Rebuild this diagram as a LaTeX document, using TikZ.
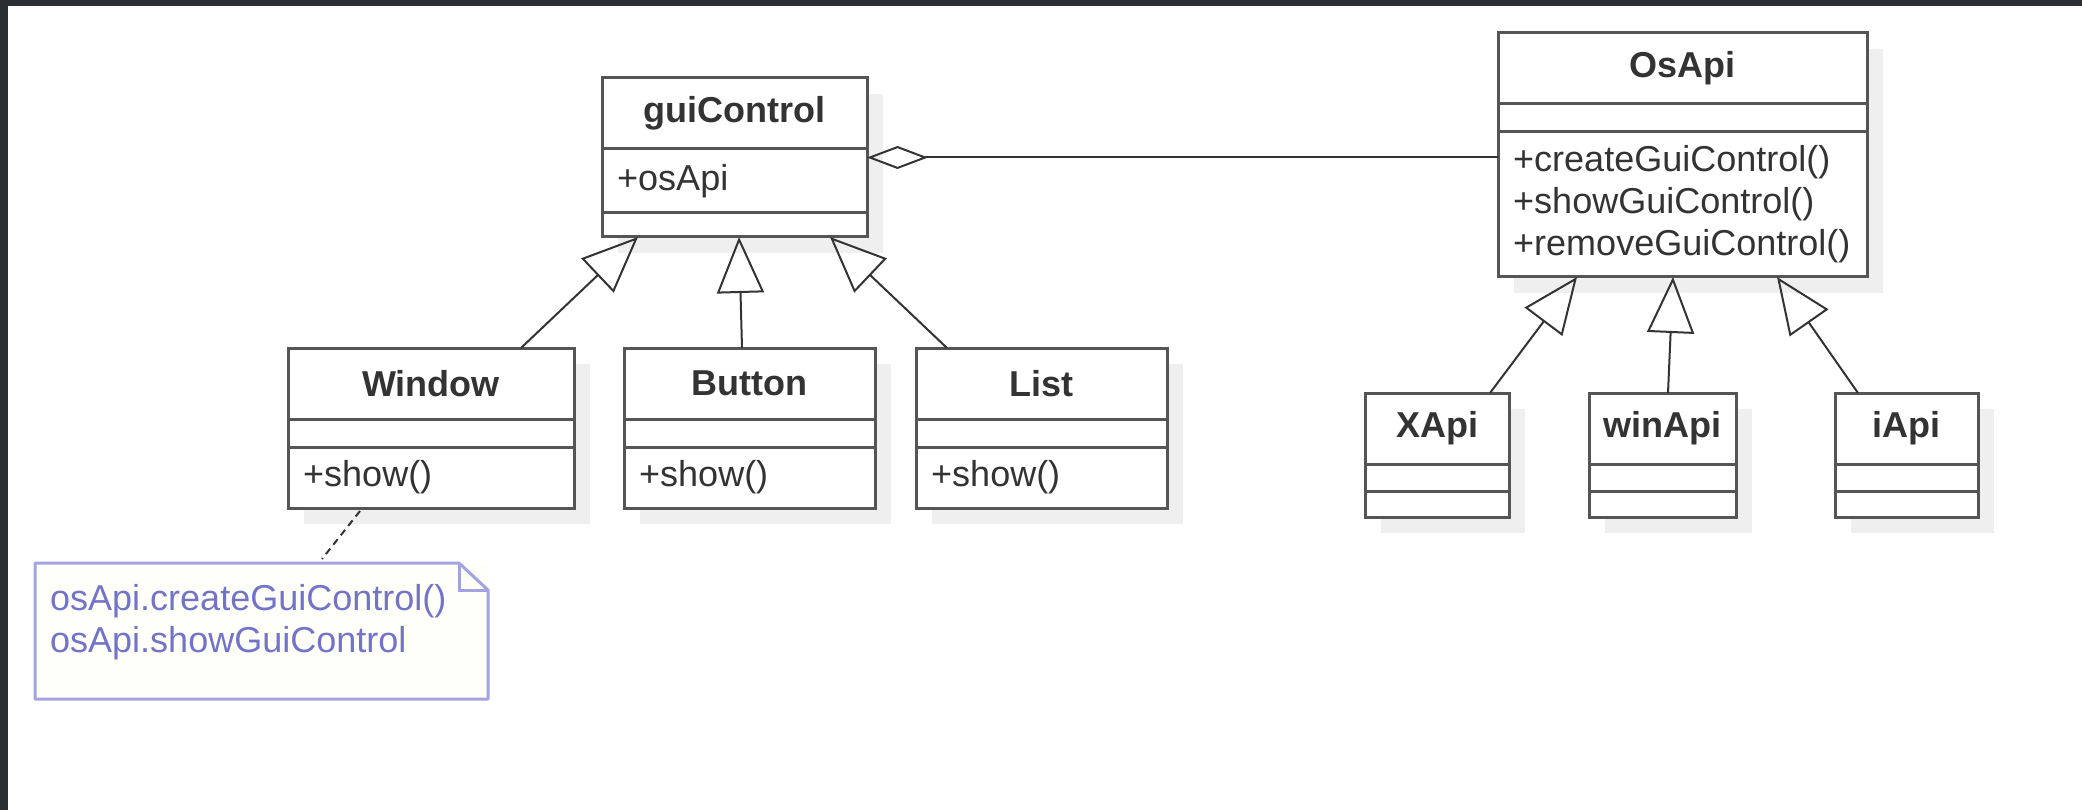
\documentclass[tikz,border=0pt]{standalone}
\usepackage{fontspec}
\setmainfont{Liberation Sans}
\usetikzlibrary{arrows.meta,calc}

\definecolor{framedark}{HTML}{2B2E33}
\definecolor{ink}{HTML}{333333}
\definecolor{edge}{HTML}{555555}
\definecolor{shadowgrey}{HTML}{EFEFEF}
\definecolor{noteedge}{HTML}{A3A3E0}
\definecolor{noteink}{HTML}{7373C8}
\definecolor{notefill}{HTML}{FFFFFA}

% UML class: name, centre x, centre y, width, height, second divider offset,
% title, attributes, operations
\newcommand\umlclass[9]{%
  \fill[shadowgrey] ({#2-#4/2+16},{#3-#5/2+16}) rectangle ++(#4,#5);
  \node[classbox, minimum width=#4pt, minimum height=#5pt] (#1) at (#2,#3) {};
  \draw[divider] ($(#1.north west)+(0,71)$) -- ($(#1.north east)+(0,71)$);
  \draw[divider] ($(#1.north west)+(0,#6)$) -- ($(#1.north east)+(0,#6)$);
  \node[titletext] (#1-title) at ($(#1.north)+(0,35.5)$) {#7};
  \node[membertext] (#1-attr) at ($(#1.north west)+(15,{(71+#6)/2})$) {#8};
  \node[membertext] (#1-ops) at ($(#1.north west)+(15,{(#6+#5)/2})$) {#9};
}

\begin{document}
\begin{tikzpicture}[x=1pt,y=-1pt,
  every node/.style={font=\fontsize{36}{42}\selectfont},
  classbox/.style={draw=edge, line width=3pt, fill=white, rectangle,
    inner sep=0pt, outer sep=0pt},
  divider/.style={draw=edge, line width=3pt},
  titletext/.style={text=ink, inner sep=0pt, font=\fontsize{36}{42}\selectfont\bfseries},
  membertext/.style={text=ink, inner sep=0pt, anchor=west, align=left},
  inherit/.style={draw=ink, line width=2pt,
    -{Triangle[open, length=56pt, width=47pt, line width=2pt]}},
  aggregate/.style={draw=ink, line width=2pt,
    {Diamond[open, length=61pt, width=23pt, line width=2pt]}-},
  notelink/.style={draw=ink, line width=2pt, dash pattern=on 7pt off 5pt},
]
\useasboundingbox (0,0) rectangle (2082,810);
\fill[white] (0,0) rectangle (2082,810);

% window frame edges
\fill[framedark] (0,0) rectangle (2082,6);
\fill[framedark] (0,0) rectangle (8,810);

% classes
\umlclass{gui}{734.5}{157.5}{265}{159}{135}{guiControl}{+osApi}{}
\umlclass{osapi}{1682.5}{155}{369}{244}{99}{OsApi}{}%
  {+createGuiControl()\\+showGuiControl()\\+removeGuiControl()}
\umlclass{win}{431}{428}{286}{160}{99}{Window}{}{+show()}
\umlclass{btn}{749.5}{428}{251}{160}{99}{Button}{}{+show()}
\umlclass{lst}{1041.5}{428}{251}{160}{99}{List}{}{+show()}
\umlclass{xapi}{1437}{455}{144}{124}{98}{XApi}{}{}
\umlclass{winapi}{1662.5}{455}{147}{124}{98}{winApi}{}{}
\umlclass{iapi}{1906.5}{455}{143}{124}{98}{iApi}{}{}

% note attached to Window
\node[fill=notefill, minimum width=453pt, minimum height=136pt,
  inner sep=0pt, outer sep=0pt] (note) at (261.5,631) {};
\draw[noteedge, line width=3pt, line join=round]
  (note.north west) -- ($(note.north east)+(-29,0)$)
  -- ($(note.north east)+(0,27)$) -- (note.south east)
  -- (note.south west) -- cycle;
\draw[noteedge, line width=3pt]
  ($(note.north east)+(-29,0)$) |- ($(note.north east)+(0,27)$);
\node[text=noteink, inner sep=0pt, anchor=north west, align=left]
  (notetext) at ($(note.north west)+(15,21)$)
  {osApi.createGuiControl()\\osApi.showGuiControl};

% aggregation
\draw[aggregate] (gui.east) -- (gui.east -| osapi.west);

% generalizations
\draw[inherit] ($(win.north west)+(233,0)$) -- ($(gui.south west)+(36,0)$);
\draw[inherit] ($(btn.north west)+(118,0)$) -- ($(gui.south west)+(137,0)$);
\draw[inherit] ($(lst.north west)+(31,0)$) -- ($(gui.south west)+(228,0)$);
\draw[inherit] ($(xapi.north west)+(125,0)$) -- ($(osapi.south west)+(79,0)$);
\draw[inherit] ($(winapi.north west)+(79,0)$) -- ($(osapi.south west)+(175,0)$);
\draw[inherit] ($(iapi.north west)+(23,0)$) -- ($(osapi.south west)+(279,0)$);

% note anchor line
\draw[notelink] ($(win.south west)+(72,3)$) -- ($(note.north west)+(287,-4)$);
\end{tikzpicture}
\end{document}
